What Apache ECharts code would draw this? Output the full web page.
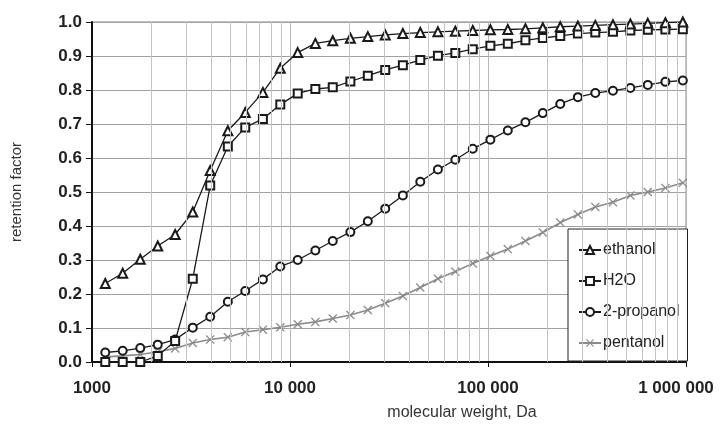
<!DOCTYPE html>
<html lang="en">

<head>
    <meta charset="UTF-8">
    <title>retention factor</title>
    <script src="https://cdn.jsdelivr.net/npm/echarts@6/dist/echarts.min.js"></script>
    <style>
        html, body { margin: 0; padding: 0; background: #fff; }
        #chart { width: 726px; height: 426px; }
    </style>
</head>

<body>
    <div id="chart"></div>
    <script type="text/javascript">
        // molecular weight of each measured point, Da
        var mw = [1167, 1429, 1753, 2148, 2630, 3228, 3954, 4853, 5943, 7295, 8933,
            10940, 13430, 16440, 20180, 24720, 30270, 37150, 45500, 55850, 68390, 83750,
            102800, 125900, 154500, 189200, 231700, 284400, 348300, 427600, 523600, 641200, 787000, 963900];

        var ethanol = [0.231, 0.261, 0.302, 0.341, 0.375, 0.441, 0.563, 0.680, 0.734, 0.793, 0.864,
            0.910, 0.937, 0.945, 0.952, 0.957, 0.962, 0.966, 0.969, 0.971, 0.973, 0.975,
            0.977, 0.978, 0.980, 0.983, 0.986, 0.988, 0.990, 0.992, 0.994, 0.996, 0.998, 1.0];
        var h2o = [0.0, 0.0, 0.0, 0.018, 0.062, 0.245, 0.519, 0.634, 0.690, 0.715, 0.757,
            0.790, 0.803, 0.808, 0.825, 0.842, 0.859, 0.873, 0.888, 0.901, 0.909, 0.920,
            0.930, 0.936, 0.946, 0.953, 0.959, 0.966, 0.969, 0.971, 0.975, 0.977, 0.978, 0.979];
        var propanol = [0.028, 0.033, 0.041, 0.051, 0.066, 0.101, 0.133, 0.177, 0.209, 0.243, 0.281,
            0.300, 0.328, 0.356, 0.382, 0.414, 0.451, 0.490, 0.530, 0.566, 0.595, 0.627,
            0.654, 0.681, 0.705, 0.732, 0.759, 0.779, 0.791, 0.798, 0.806, 0.815, 0.824, 0.828];
        var pentanol = [0.015, 0.018, 0.022, 0.030, 0.040, 0.056, 0.066, 0.073, 0.088, 0.095, 0.102,
            0.111, 0.118, 0.128, 0.138, 0.153, 0.173, 0.194, 0.219, 0.245, 0.266, 0.290,
            0.312, 0.332, 0.356, 0.381, 0.410, 0.434, 0.456, 0.470, 0.490, 0.500, 0.512, 0.527];

        var xTickLabels = ['1000', '10 000', '100 000', '1 000 000'];
        var minorLines = [2000, 3000, 4000, 5000, 6000, 7000, 8000, 9000,
            20000, 30000, 40000, 50000, 60000, 70000, 80000, 90000,
            200000, 300000, 400000, 500000, 600000, 700000, 800000, 900000];

        function pairs(ys) {
            return ys.map(function (y, i) { return [mw[i], y]; });
        }

        var crossPath = 'path://M0,1 L1,0 L5,4 L9,0 L10,1 L6,5 L10,9 L9,10 L5,6 L1,10 L0,9 L4,5 Z';
        var font = '"Liberation Sans", Arial, sans-serif';

        var myChart = echarts.init(document.getElementById('chart'));
        var option = {
            backgroundColor: '#fff',
            animation: false,
            textStyle: { fontFamily: font },
            grid: {
                left: 92, right: 40, top: 22, bottom: 63,
                show: true, borderColor: '#888', borderWidth: 1
            },
            legend: {
                data: ['ethanol', 'H2O', '2-propanol', 'pentanol'],
                orient: 'vertical',
                left: 568, top: 229,
                padding: [13, 8, 10, 10],
                itemWidth: 22, itemHeight: 10, itemGap: 15,
                backgroundColor: '#fff',
                borderColor: '#222', borderWidth: 1,
                textStyle: { fontSize: 16, color: '#222', fontFamily: font, padding: [0, 0, 0, -3] }
            },
            xAxis: {
                type: 'log', logBase: 10, min: 1000, max: 1000000,
                name: 'molecular weight, Da',
                nameLocation: 'middle', nameGap: 43,
                nameTextStyle: { fontSize: 16, color: '#333', padding: [0, 0, 0, 146] },
                axisLine: { lineStyle: { color: '#111', width: 2 } },
                axisTick: { show: true, length: 5, lineStyle: { color: '#111' } },
                axisLabel: {
                    margin: 18, fontSize: 17, fontWeight: 'bold', color: '#222',
                    formatter: function (v) {
                        var s = xTickLabels[Math.round(Math.log10(v)) - 3];
                        return v >= 1000000 ? '{last|' + s + '}' : s;
                    },
                    rich: { last: { fontSize: 17, fontWeight: 'bold', color: '#222', padding: [0, 20, 0, 0] } }
                },
                splitLine: { show: true, lineStyle: { color: '#b8b8b8', width: 1 } }
            },
            yAxis: {
                type: 'value', min: 0, max: 1, interval: 0.1,
                name: 'retention factor',
                nameLocation: 'middle', nameGap: 68, nameRotate: 90,
                nameTextStyle: { fontSize: 15, color: '#333' },
                axisLine: { show: true, lineStyle: { color: '#111', width: 2 } },
                axisTick: { show: true, length: 6, lineStyle: { color: '#111' } },
                axisLabel: {
                    margin: 10, fontSize: 17, fontWeight: 'bold', color: '#222',
                    formatter: function (v) { return v.toFixed(1); }
                },
                splitLine: { show: true, lineStyle: { color: '#a0a0a0', width: 1 } }
            },
            series: [
                {
                    name: 'minor', type: 'line', data: [], z: 1, silent: true,
                    markLine: {
                        silent: true, symbol: 'none', label: { show: false },
                        lineStyle: { color: '#c4c4c4', type: 'solid', width: 1 },
                        data: minorLines.map(function (v) { return { xAxis: v }; })
                    }
                },
                {
                    name: 'pentanol', type: 'line', data: pairs(pentanol),
                    symbol: crossPath, symbolSize: 9,
                    lineStyle: { color: '#8a8a8a', width: 1.6 },
                    itemStyle: { color: '#8a8a8a' }
                },
                {
                    name: '2-propanol', type: 'line', data: pairs(propanol),
                    symbol: 'emptyCircle', symbolSize: 8,
                    lineStyle: { color: '#1a1a1a', width: 1.3 },
                    itemStyle: { color: '#1a1a1a', borderWidth: 1.4 }
                },
                {
                    name: 'H2O', type: 'line', data: pairs(h2o),
                    symbol: 'emptyRect', symbolSize: 8,
                    lineStyle: { color: '#1a1a1a', width: 1.3 },
                    itemStyle: { color: '#1a1a1a', borderWidth: 1.4 }
                },
                {
                    name: 'ethanol', type: 'line', data: pairs(ethanol),
                    symbol: 'emptyTriangle', symbolSize: 9,
                    lineStyle: { color: '#1a1a1a', width: 1.3 },
                    itemStyle: { color: '#1a1a1a', borderWidth: 1.4 }
                }
            ]
        };
        myChart.setOption(option);
    </script>
</body>

</html>
